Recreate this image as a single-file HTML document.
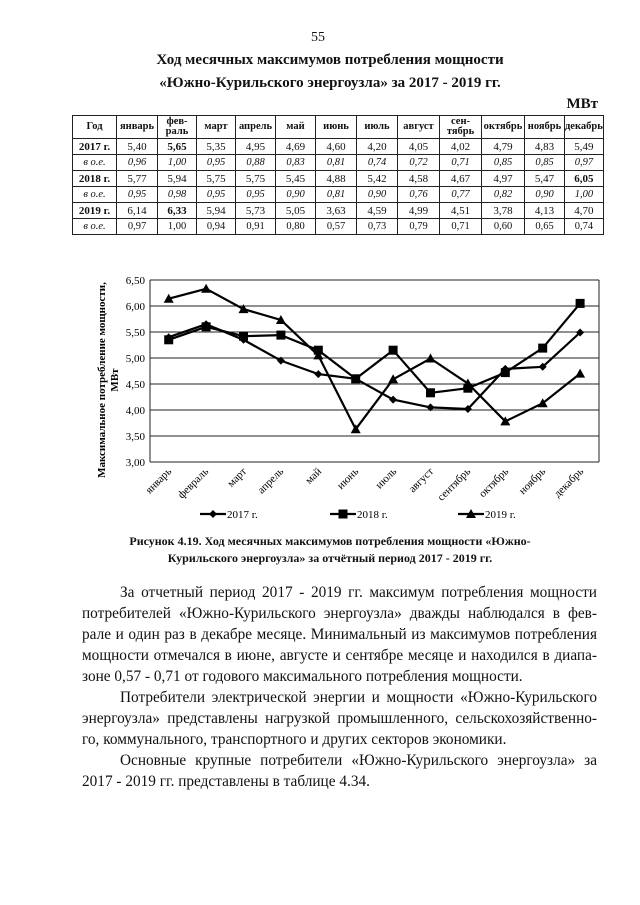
<!DOCTYPE html>
<html><head><meta charset="utf-8"><style>
body{margin:0;background:#fff;}
#p{position:relative;width:640px;height:905px;overflow:hidden;font-family:"Liberation Serif",serif;color:#111;}
.a{position:absolute;white-space:nowrap;}
table{position:absolute;left:72px;top:115px;border-collapse:collapse;font-size:11px;}
td{border:1px solid #222;text-align:center;padding:0;height:15px;}
tr.h td{height:22px;font-weight:bold;font-size:10.5px;line-height:10px;}
tr.i td{font-style:italic;font-size:10.5px;}
td.b{font-weight:bold;}
.ln{position:absolute;left:82px;width:515px;font-size:15.3px;text-align:justify;text-align-last:justify;white-space:nowrap;}
.ln.e{text-align-last:left;}
.ind{left:120px;width:477px;}
</style></head><body><div id="p">
<div class="a" style="left:311px;top:30px;font-size:14px;">55</div>
<div class="a" style="left:0;width:660px;text-align:center;top:52px;font-size:15px;font-weight:bold;">Ход месячных максимумов потребления мощности</div>
<div class="a" style="left:0;width:660px;text-align:center;top:75px;font-size:15px;font-weight:bold;">«Южно-Курильского энергоузла» за 2017 - 2019 гг.</div>
<div class="a" style="right:42px;top:96px;font-size:15px;font-weight:bold;">МВт</div>
<table>
<colgroup><col style="width:44px"><col style="width:41px"><col style="width:39px"><col style="width:39px"><col style="width:40px"><col style="width:40px"><col style="width:41px"><col style="width:41px"><col style="width:42px"><col style="width:42px"><col style="width:43px"><col style="width:40px"><col style="width:33px"></colgroup>
<tr class="h"><td>Год</td><td>январь</td><td>фев-<br>раль</td><td>март</td><td>апрель</td><td>май</td><td>июнь</td><td>июль</td><td>август</td><td>сен-<br>тябрь</td><td>октябрь</td><td>ноябрь</td><td>декабрь</td></tr>
<tr><td class="b">2017 г.</td><td>5,40</td><td class="b">5,65</td><td>5,35</td><td>4,95</td><td>4,69</td><td>4,60</td><td>4,20</td><td>4,05</td><td>4,02</td><td>4,79</td><td>4,83</td><td>5,49</td></tr>
<tr class="i"><td>в о.е.</td><td>0,96</td><td>1,00</td><td>0,95</td><td>0,88</td><td>0,83</td><td>0,81</td><td>0,74</td><td>0,72</td><td>0,71</td><td>0,85</td><td>0,85</td><td>0,97</td></tr>
<tr><td class="b">2018 г.</td><td>5,77</td><td>5,94</td><td>5,75</td><td>5,75</td><td>5,45</td><td>4,88</td><td>5,42</td><td>4,58</td><td>4,67</td><td>4,97</td><td>5,47</td><td class="b">6,05</td></tr>
<tr class="i"><td>в о.е.</td><td>0,95</td><td>0,98</td><td>0,95</td><td>0,95</td><td>0,90</td><td>0,81</td><td>0,90</td><td>0,76</td><td>0,77</td><td>0,82</td><td>0,90</td><td>1,00</td></tr>
<tr><td class="b">2019 г.</td><td>6,14</td><td class="b">6,33</td><td>5,94</td><td>5,73</td><td>5,05</td><td>3,63</td><td>4,59</td><td>4,99</td><td>4,51</td><td>3,78</td><td>4,13</td><td>4,70</td></tr>
<tr class="i"><td>в о.е.</td><td style="font-style:normal">0,97</td><td style="font-style:normal">1,00</td><td style="font-style:normal">0,94</td><td style="font-style:normal">0,91</td><td style="font-style:normal">0,80</td><td style="font-style:normal">0,57</td><td style="font-style:normal">0,73</td><td style="font-style:normal">0,79</td><td style="font-style:normal">0,71</td><td style="font-style:normal">0,60</td><td style="font-style:normal">0,65</td><td style="font-style:normal">0,74</td></tr>
</table>

<svg class="a" style="left:0;top:0" width="640" height="905" font-family="Liberation Serif, serif">
<g stroke="#222" stroke-width="1">
<line x1="150" y1="280" x2="599" y2="280"/><line x1="150" y1="306" x2="599" y2="306"/><line x1="150" y1="332" x2="599" y2="332"/><line x1="150" y1="358" x2="599" y2="358"/><line x1="150" y1="384" x2="599" y2="384"/><line x1="150" y1="410" x2="599" y2="410"/><line x1="150" y1="436" x2="599" y2="436"/><line x1="150" y1="462" x2="599" y2="462"/>
<line x1="150" y1="280" x2="150" y2="462"/><line x1="599" y1="280" x2="599" y2="462"/>
</g>
<g font-size="11" text-anchor="end">
<text x="145" y="284">6,50</text><text x="145" y="310">6,00</text><text x="145" y="336">5,50</text><text x="145" y="362">5,00</text><text x="145" y="388">4,50</text><text x="145" y="414">4,00</text><text x="145" y="440">3,50</text><text x="145" y="466">3,00</text>
</g>
<g font-size="11" text-anchor="end">
<text transform="translate(172,472) rotate(-45)">январь</text>
<text transform="translate(209,472) rotate(-45)">февраль</text>
<text transform="translate(247,472) rotate(-45)">март</text>
<text transform="translate(284,472) rotate(-45)">апрель</text>
<text transform="translate(322,472) rotate(-45)">май</text>
<text transform="translate(359,472) rotate(-45)">июнь</text>
<text transform="translate(397,472) rotate(-45)">июль</text>
<text transform="translate(434,472) rotate(-45)">август</text>
<text transform="translate(471,472) rotate(-45)">сентябрь</text>
<text transform="translate(509,472) rotate(-45)">октябрь</text>
<text transform="translate(546,472) rotate(-45)">ноябрь</text>
<text transform="translate(584,472) rotate(-45)">декабрь</text>
</g>
<g font-size="11" font-weight="bold" text-anchor="middle">
<text transform="translate(105,380) rotate(-90)">Максимальное потребление мощности,</text>
<text transform="translate(118,380) rotate(-90)">МВт</text>
</g>
<g fill="none" stroke="#000" stroke-width="2.2">
<polyline points="168.7,337.2 206.1,324.2 243.5,339.8 280.9,360.6 318.3,374.1 355.7,378.8 393.1,399.6 430.5,407.4 467.9,409 505.3,368.9 542.7,366.8 580.1,332.5"/>
<polyline points="168.7,339.8 206.1,326.8 243.5,336.2 280.9,335.1 318.3,350.2 355.7,378.8 393.1,350.2 430.5,392.8 467.9,388.2 505.3,372.6 542.7,348.1 580.1,303.4"/>
<polyline points="168.7,298.7 206.1,288.8 243.5,309.1 280.9,320 318.3,355.4 355.7,429.2 393.1,379.3 430.5,358.5 467.9,383.5 505.3,421.4 542.7,403.2 580.1,373.6"/>
</g>
<g fill="#000">
<path d="M168.7,333.2l4,4-4,4-4-4z M206.1,320.2l4,4-4,4-4-4z M243.5,335.8l4,4-4,4-4-4z M280.9,356.6l4,4-4,4-4-4z M318.3,370.1l4,4-4,4-4-4z M355.7,374.8l4,4-4,4-4-4z M393.1,395.6l4,4-4,4-4-4z M430.5,403.4l4,4-4,4-4-4z M467.9,405l4,4-4,4-4-4z M505.3,364.9l4,4-4,4-4-4z M542.7,362.8l4,4-4,4-4-4z M580.1,328.5l4,4-4,4-4-4z"/>
<rect x="164.2" y="335.3" width="9" height="9"/><rect x="201.6" y="322.3" width="9" height="9"/><rect x="239" y="331.7" width="9" height="9"/><rect x="276.4" y="330.6" width="9" height="9"/><rect x="313.8" y="345.7" width="9" height="9"/><rect x="351.2" y="374.3" width="9" height="9"/><rect x="388.6" y="345.7" width="9" height="9"/><rect x="426" y="388.3" width="9" height="9"/><rect x="463.4" y="383.7" width="9" height="9"/><rect x="500.8" y="368.1" width="9" height="9"/><rect x="538.2" y="343.6" width="9" height="9"/><rect x="575.6" y="298.9" width="9" height="9"/>
<path d="M168.7,293.7l5,9h-10z M206.1,283.8l5,9h-10z M243.5,304.1l5,9h-10z M280.9,315l5,9h-10z M318.3,350.4l5,9h-10z M355.7,424.2l5,9h-10z M393.1,374.3l5,9h-10z M430.5,353.5l5,9h-10z M467.9,378.5l5,9h-10z M505.3,416.4l5,9h-10z M542.7,398.2l5,9h-10z M580.1,368.6l5,9h-10z"/>
</g>
<g stroke="#000" stroke-width="2.2"><line x1="200" y1="514" x2="226" y2="514"/><line x1="330" y1="514" x2="356" y2="514"/><line x1="458" y1="514" x2="484" y2="514"/></g>
<path d="M213,510l4,4-4,4-4-4z M338.5,509.5h9v9h-9z M471,509l5,9h-10z" fill="#000"/>
<g font-size="11"><text x="227" y="518">2017 г.</text><text x="357" y="518">2018 г.</text><text x="485" y="518">2019 г.</text></g>
</svg>

<div class="a" style="left:0;width:660px;text-align:center;top:534px;font-size:12px;font-weight:bold;">Рисунок 4.19. Ход месячных максимумов потребления мощности «Южно-</div>
<div class="a" style="left:0;width:660px;text-align:center;top:551px;font-size:12px;font-weight:bold;">Курильского энергоузла» за отчётный период 2017 - 2019 гг.</div>

<div class="ln ind" style="top:584px">За отчетный период 2017 - 2019 гг. максимум потребления мощности</div>
<div class="ln" style="top:605px">потребителей «Южно-Курильского энергоузла» дважды наблюдался в фев-</div>
<div class="ln" style="top:626px">рале и один раз в декабре месяце. Минимальный из максимумов потребления</div>
<div class="ln" style="top:647px">мощности отмечался в июне, августе и сентябре месяце и находился в диапа-</div>
<div class="ln e" style="top:668px">зоне 0,57 - 0,71 от годового максимального потребления мощности.</div>
<div class="ln ind" style="top:689px">Потребители электрической энергии и мощности «Южно-Курильского</div>
<div class="ln" style="top:710px">энергоузла» представлены нагрузкой промышленного, сельскохозяйственно-</div>
<div class="ln e" style="top:731px">го, коммунального, транспортного и других секторов экономики.</div>
<div class="ln ind" style="top:752px">Основные крупные потребители «Южно-Курильского энергоузла» за</div>
<div class="ln e" style="top:773px">2017 - 2019 гг. представлены в таблице 4.34.</div>
</div></body></html>
